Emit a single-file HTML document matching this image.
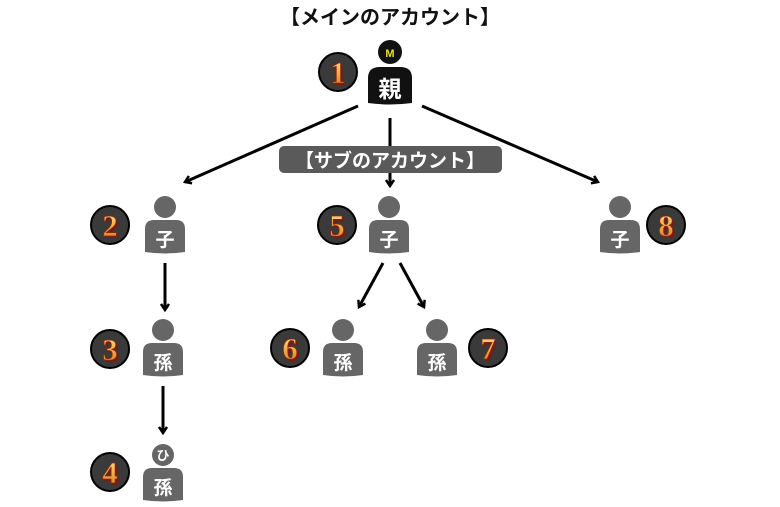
<!DOCTYPE html>
<html><head><meta charset="utf-8"><style>
html,body{margin:0;padding:0;background:#fff;}
svg{display:block;}
text{font-family:"Liberation Sans","Noto Sans CJK JP",sans-serif;font-weight:bold;}
.num{font-family:"Liberation Serif","Noto Serif CJK SC",serif;font-weight:bold;}
</style></head><body>
<svg width="780" height="507" viewBox="0 0 780 507" xmlns="http://www.w3.org/2000/svg">
<defs>
<marker id="ah" markerWidth="10" markerHeight="10" refX="7" refY="5" orient="auto" markerUnits="userSpaceOnUse">
<path d="M1,1 L7,5 L1,9" fill="none" stroke="#000" stroke-width="2.5"/>
</marker>
<linearGradient id="gold" x1="0" y1="0" x2="0" y2="1">
<stop offset="0" stop-color="#ffe6a0"/><stop offset="0.5" stop-color="#f5b048"/><stop offset="1" stop-color="#d0701a"/>
</linearGradient>
<symbol id="badge" overflow="visible">
<circle cx="0" cy="0" r="19" fill="#3a3a3a" stroke="#000" stroke-width="2"/>
</symbol>
</defs>

<text x="390" y="24" font-size="20" text-anchor="middle" fill="#111">【メインのアカウント】</text>

<!-- parent -->
<circle cx="390" cy="52" r="12" fill="#111"/>
<text x="390" y="57" font-size="11" text-anchor="middle" fill="#e6e020">M</text>
<path d="M368,103 L368,78 Q368,67 380,67 L400,67 Q412,67 412,78 L412,103 Q390,106 368,103 Z" fill="#111"/>
<text x="390" y="97" font-size="23" text-anchor="middle" fill="#fff">親</text>
<use href="#badge" x="338" y="72"/>

<!-- arrows -->
<g stroke="#000" stroke-width="3" fill="none">
<line x1="358" y1="106" x2="185" y2="182" marker-end="url(#ah)"/>
<line x1="390" y1="118" x2="390" y2="186" marker-end="url(#ah)"/>
<line x1="422" y1="106" x2="598" y2="182" marker-end="url(#ah)"/>
<line x1="165" y1="263" x2="165" y2="310" marker-end="url(#ah)"/>
<line x1="163" y1="386" x2="163" y2="433" marker-end="url(#ah)"/>
<line x1="383" y1="263" x2="359" y2="307" marker-end="url(#ah)"/>
<line x1="400" y1="263" x2="424" y2="307" marker-end="url(#ah)"/>
</g>

<rect x="279" y="146" width="223" height="27" rx="5" fill="#5a5a5a"/>
<text x="390" y="167" font-size="19" text-anchor="middle" fill="#fff">【サブのアカウント】</text>

<g fill="#666">
<circle cx="165" cy="207" r="11"/><path d="M145,252 L145,229 Q145,220 154,220 L176,220 Q185,220 185,229 L185,252 Q165,255 145,252 Z"/>
<circle cx="389" cy="207" r="11"/><path d="M369,252 L369,229 Q369,220 378,220 L400,220 Q409,220 409,229 L409,252 Q389,255 369,252 Z"/>
<circle cx="620" cy="207" r="11"/><path d="M600,252 L600,229 Q600,220 609,220 L631,220 Q640,220 640,229 L640,252 Q620,255 600,252 Z"/>
<circle cx="163" cy="330" r="11"/><path d="M143,375 L143,352 Q143,343 152,343 L174,343 Q183,343 183,352 L183,375 Q163,378 143,375 Z"/>
<circle cx="343" cy="330" r="11"/><path d="M323,375 L323,352 Q323,343 332,343 L354,343 Q363,343 363,352 L363,375 Q343,378 323,375 Z"/>
<circle cx="437" cy="330" r="11"/><path d="M417,375 L417,352 Q417,343 426,343 L448,343 Q457,343 457,352 L457,375 Q437,378 417,375 Z"/>
<circle cx="163" cy="455" r="11"/><path d="M143,500 L143,477 Q143,468 152,468 L174,468 Q183,468 183,477 L183,500 Q163,503 143,500 Z"/>
</g>
<g fill="#fff" text-anchor="middle" font-size="19">
<text x="165" y="246">子</text>
<text x="389" y="246">子</text>
<text x="620" y="246">子</text>
<text x="163" y="369">孫</text>
<text x="343" y="369">孫</text>
<text x="437" y="369">孫</text>
<text x="163" y="494">孫</text>
<text x="163" y="460" font-size="13">ひ</text>
</g>

<g>
<use href="#badge" x="110" y="225"/><use href="#badge" x="337" y="225"/><use href="#badge" x="666" y="225"/>
<use href="#badge" x="110" y="349"/><use href="#badge" x="290" y="348"/><use href="#badge" x="488" y="348"/>
<use href="#badge" x="110" y="472"/>
</g>
<g class="num" font-size="31" text-anchor="middle" fill="#7a1a10">
<text class="num" x="340" y="85">1</text>
<text class="num" x="112" y="238">2</text>
<text class="num" x="339" y="238">5</text>
<text class="num" x="668" y="238">8</text>
<text class="num" x="112" y="362">3</text>
<text class="num" x="292" y="361">6</text>
<text class="num" x="490" y="361">7</text>
<text class="num" x="112" y="485">4</text>
</g>
<g class="num" font-size="31" text-anchor="middle" fill="url(#gold)" stroke="#8a2a10" stroke-width="0.8">
<text class="num" x="338" y="83">1</text>
<text class="num" x="110" y="236">2</text>
<text class="num" x="337" y="236">5</text>
<text class="num" x="666" y="236">8</text>
<text class="num" x="110" y="360">3</text>
<text class="num" x="290" y="359">6</text>
<text class="num" x="488" y="359">7</text>
<text class="num" x="110" y="483">4</text>
</g>
</svg>
</body></html>
